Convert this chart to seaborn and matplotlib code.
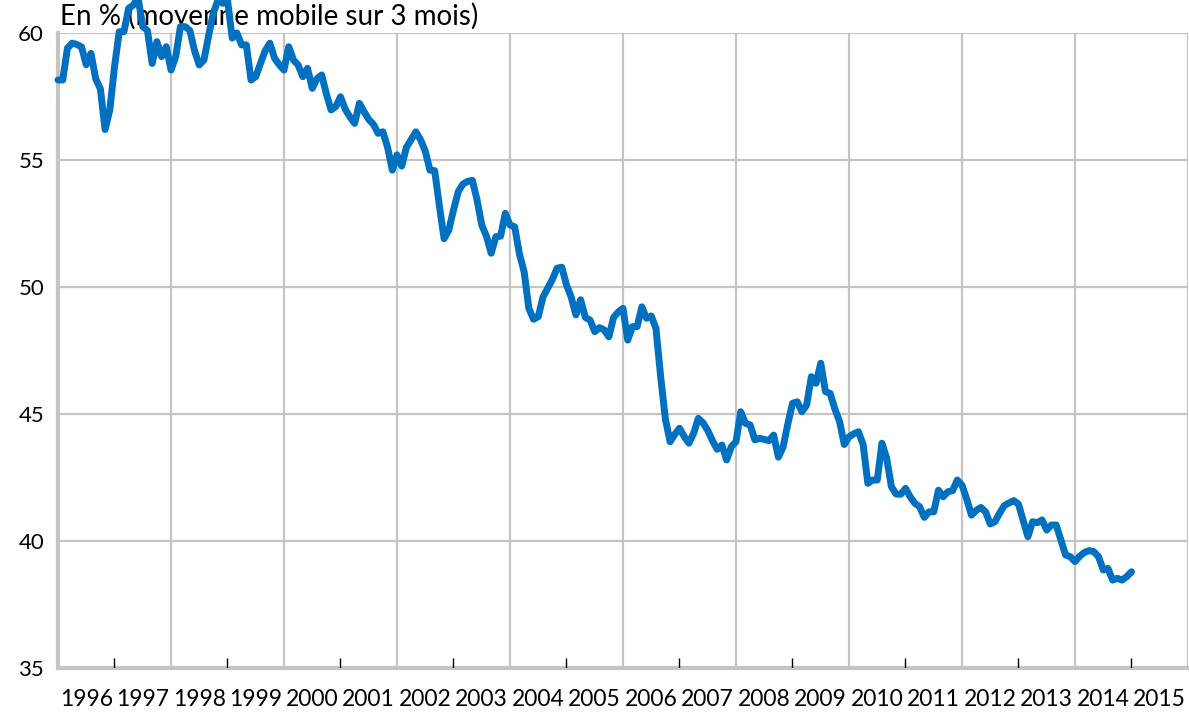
import numpy as np
import pandas as pd
import matplotlib
matplotlib.use('Agg')
import matplotlib.pyplot as plt
import seaborn as sns

# part en % (moyenne mobile sur 3 mois), mensuel de janv. 1996 a janv. 2015
valeurs = [
    58.15, 58.15, 59.4, 59.6, 59.55, 59.45, 58.75, 59.2, 58.2, 57.8, 56.2, 56.97,      # 1996
    58.67, 60.05, 60.05, 60.97, 61.1, 61.4, 60.25, 60.1, 58.8, 59.66, 59.07, 59.46,    # 1997
    58.54, 59.07, 60.25, 60.25, 60.1, 59.3, 58.74, 58.94, 59.9, 60.8, 61.3, 61.17,     # 1998
    61.3, 59.8, 60.0, 59.53, 59.53, 58.15, 58.28, 58.8, 59.3, 59.6, 59.0, 58.75,       # 1999
    58.54, 59.46, 58.94, 58.74, 58.28, 58.61, 57.82, 58.2, 58.35, 57.6, 56.97, 57.1,   # 2000
    57.49, 57.0, 56.7, 56.44, 57.23, 56.9, 56.6, 56.4, 56.05, 56.11, 55.5, 54.6,       # 2001
    55.2, 54.76, 55.5, 55.8, 56.11, 55.8, 55.35, 54.6, 54.58, 53.2, 51.9, 52.24,       # 2002
    53.03, 53.75, 54.05, 54.16, 54.2, 53.43, 52.44, 52.0, 51.33, 51.98, 52.0, 52.9,    # 2003
    52.44, 52.37, 51.3, 50.6, 49.16, 48.73, 48.83, 49.6, 49.95, 50.3, 50.74, 50.78,    # 2004
    50.08, 49.6, 48.9, 49.5, 48.8, 48.7, 48.24, 48.4, 48.31, 48.04, 48.8, 49.02,       # 2005
    49.16, 47.91, 48.44, 48.44, 49.22, 48.77, 48.86, 48.37, 46.47, 44.8, 43.91, 44.2,  # 2006
    44.44, 44.11, 43.85, 44.24, 44.83, 44.65, 44.35, 43.95, 43.61, 43.78, 43.19, 43.71,  # 2007
    43.91, 45.09, 44.63, 44.57, 43.98, 44.04, 44.0, 43.95, 44.17, 43.3, 43.7, 44.6,    # 2008
    45.42, 45.48, 45.09, 45.35, 46.47, 46.21, 47.0, 45.88, 45.81, 45.2, 44.7, 43.8,    # 2009
    44.1, 44.22, 44.3, 43.8, 42.27, 42.4, 42.4, 43.85, 43.26, 42.14, 41.85, 41.84,     # 2010
    42.07, 41.74, 41.48, 41.35, 40.93, 41.15, 41.15, 42.0, 41.74, 41.94, 41.98, 42.4,  # 2011
    42.2, 41.65, 41.02, 41.2, 41.32, 41.15, 40.67, 40.76, 41.1, 41.4, 41.5, 41.59,     # 2012
    41.45, 40.8, 40.17, 40.76, 40.72, 40.83, 40.43, 40.63, 40.63, 40.04, 39.45, 39.38,  # 2013
    39.19, 39.4, 39.55, 39.62, 39.58, 39.38, 38.86, 38.92, 38.46, 38.53, 38.46, 38.6,  # 2014
    38.79,                                                                             # 2015
]
annees = list(range(1996, 2016))
y_ticks = [35, 40, 45, 50, 55, 60]
titre = 'En % (moyenne mobile sur 3 mois)'

df = pd.DataFrame({'t': 1996 + np.arange(len(valeurs)) / 12, 'v': valeurs})

sns.set_style('white')
plt.rcParams['font.family'] = ['Lato', 'DejaVu Sans']
plt.rcParams['text.color'] = 'black'

fig = plt.figure(figsize=(11.89, 7.14), dpi=100)
ax = fig.add_axes([58 / 1189, 46 / 714, 1130 / 1189, 635 / 714])

gris = '#c4c4c4'
ax.set_xlim(1996, 2016)
ax.set_ylim(35, 60)

# grille
for yy in y_ticks[1:]:
    ax.axhline(yy, color=gris, lw=1.6, zorder=1)
for an in range(1998, 2017, 2):
    ax.axvline(an, color=gris, lw=1.6, zorder=1)

g = sns.lineplot(data=df, x='t', y='v', ax=ax, color='#0070c0', lw=5, zorder=5)
for ln in ax.lines[-1:]:
    ln.set_clip_on(False)
    ln.set_solid_joinstyle('round')
    ln.set_solid_capstyle('round')

# petits traits noirs aux annees impaires
ax.vlines(annees[1::2], 35, 35.4, color='black', lw=1, zorder=4)

# separateurs sous l'axe + etiquettes centrees
ax.set_xticks(annees + [2016])
ax.set_xticklabels([])
ax.tick_params(axis='x', which='major', direction='out', length=34, width=1.2, color='#d0d0d0')
ax.set_xticks([a + 0.5 for a in annees], minor=True)
ax.set_xticklabels([str(a) for a in annees], minor=True, fontsize=16.5)
ax.tick_params(axis='x', which='minor', length=0, pad=15, labelcolor='black')

ax.set_yticks(y_ticks)
ax.set_yticklabels([str(v) for v in y_ticks], fontsize=16)
ax.tick_params(axis='y', direction='out', length=6, width=1.6, color=gris, pad=4, labelcolor='black')

ax.set_xlabel('')
ax.set_ylabel('')
for s in ['top', 'right']:
    ax.spines[s].set_visible(False)
ax.spines['left'].set_color(gris)
ax.spines['left'].set_linewidth(3)
ax.spines['bottom'].set_color(gris)
ax.spines['bottom'].set_linewidth(3)

ax.text(0.002, 1.012, titre, transform=ax.transAxes, fontsize=20, va='baseline', ha='left',
        color='black', zorder=3)

fig.savefig('out.png', dpi=100)
